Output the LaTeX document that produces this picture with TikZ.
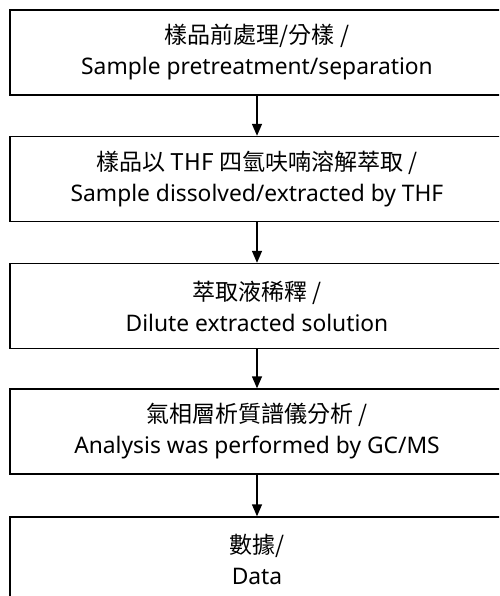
\documentclass[tikz,border=0pt]{standalone}
\usepackage{fontspec}
\setmainfont{Noto Sans}
\newfontfamily\cjk{Noto Sans CJK TC}
\usetikzlibrary{arrows.meta}
\begin{document}
\begin{tikzpicture}[x=1pt,y=-1pt,
  box/.style={draw, line width=1.4pt, rectangle, minimum width=494pt, minimum height=85pt,
    align=center, inner sep=0pt, font=\fontsize{22.8}{31}\selectfont},
  cjkline/.style={},
  arr/.style={line width=1.4pt, -{Triangle[width=10pt,length=12pt]}}]
\useasboundingbox (0,0) rectangle (499,596);
\clip (0,0) rectangle (499,596);
\node[box] (b1) at (257,52.5) {{\cjk\fontsize{23}{31}\selectfont 樣品前處理/分樣 /}\\Sample pretreatment/separation};
\node[box] (b2) at (257,179) {{\cjk\fontsize{23}{31}\selectfont 樣品以 THF 四氫呋喃溶解萃取 /}\\Sample dissolved/extracted by THF};
\node[box] (b3) at (257,306) {{\cjk\fontsize{23}{31}\selectfont 萃取液稀釋 /}\\Dilute extracted solution};
\node[box] (b4) at (257,431.5) {{\cjk\fontsize{23}{31}\selectfont 氣相層析質譜儀分析 /}\\Analysis was performed by GC/MS};
\node[box] (b5) at (257,559.5) {{\cjk\fontsize{23}{31}\selectfont 數據/}\\Data};
\draw[arr] (b1.south) -- (b2.north);
\draw[arr] (b2.south) -- (b3.north);
\draw[arr] (b3.south) -- (b4.north);
\draw[arr] (b4.south) -- (b5.north);
\end{tikzpicture}
\end{document}
